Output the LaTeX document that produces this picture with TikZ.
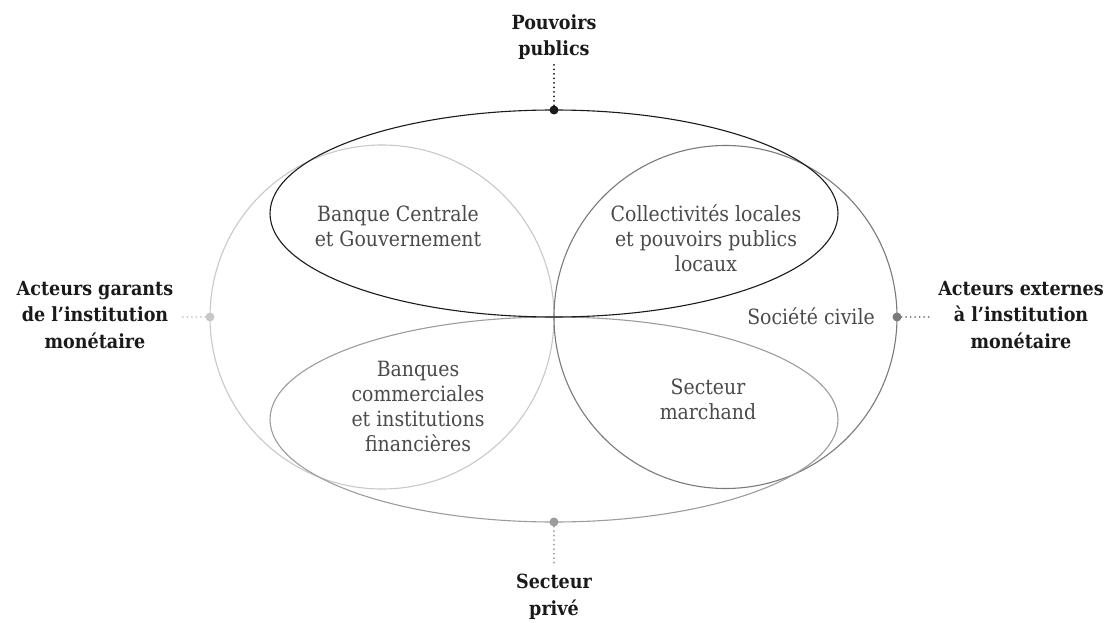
\documentclass[tikz,border=0pt]{standalone}
\usepackage{fontspec}
\setmainfont{DejaVu Serif Condensed}
\usetikzlibrary{shapes.geometric}
\definecolor{topc}{HTML}{1A1A1A}
\definecolor{leftc}{HTML}{C8C8C8}
\definecolor{rightc}{HTML}{7A7A7A}
\definecolor{botc}{HTML}{9C9C9C}
\definecolor{txtc}{HTML}{4A4A4A}
\begin{document}
\begin{tikzpicture}[x=1pt,y=-1pt,
  outline/.style={draw,ellipse,inner sep=0pt,line width=1.1pt},
  lbl/.style={font=\fontsize{19.5}{26.5}\selectfont\bfseries, align=center, text=topc},
  innertxt/.style={font=\fontsize{21}{25}\selectfont, align=center, text=txtc},
  dotn/.style={circle,fill,inner sep=0pt,minimum size=9pt},
  conn/.style={line width=2pt, dash pattern=on 0pt off 4.5pt, line cap=round}]
\useasboundingbox (0,0) rectangle (1112,623);
% big shapes
\node[outline, draw=leftc, minimum width=344pt, minimum height=344pt] (leftC) at (382,317) {};
\node[outline, draw=rightc, minimum width=343pt, minimum height=343pt] (rightC) at (725.5,317) {};
\node[outline, draw=botc, minimum width=568pt, minimum height=205pt] (botE) at (554,419.5) {};
\node[outline, draw=topc, minimum width=568pt, minimum height=207pt] (topE) at (554,213.5) {};
% dots
\node[dotn, fill=topc] (dtop) at (554,110) {};
\node[dotn, fill=leftc] (dleft) at (210,317) {};
\node[dotn, fill=rightc] (dright) at (897,317) {};
\node[dotn, fill=botc] (dbot) at (554,522) {};
% labels
\node[lbl] (pp) at (554,37) {Pouvoirs\\publics};
\node[lbl] (ag) at (95,315) {Acteurs garants\\de l’institution\\monétaire};
\node[lbl] (ae) at (1021,315) {Acteurs externes\\à l’institution\\monétaire};
\node[lbl] (sp) at (554,597) {Secteur\\privé};
% inner texts
\node[innertxt] (bc) at (398,226) {Banque Centrale\\et Gouvernement};
\node[innertxt] (cl) at (706,238) {Collectivités locales\\et pouvoirs publics\\locaux};
\node[innertxt] (sc) at (811,316) {Société civile};
\node[innertxt] (bq) at (418,406) {Banques\\commerciales\\et institutions\\financières};
\node[innertxt] (sm) at (708,399) {Secteur\\marchand};
% dotted connectors
\coordinate (ppend) at (554,62);
\coordinate (agend) at (180,317);
\coordinate (aeend) at (930,317);
\coordinate (spend) at (554,567);
\draw[conn, draw=topc] (dtop) -- (ppend);
\draw[conn, draw=leftc] (dleft) -- (agend);
\draw[conn, draw=rightc] (dright) -- (aeend);
\draw[conn, draw=botc] (dbot) -- (spend);
\end{tikzpicture}
\end{document}
